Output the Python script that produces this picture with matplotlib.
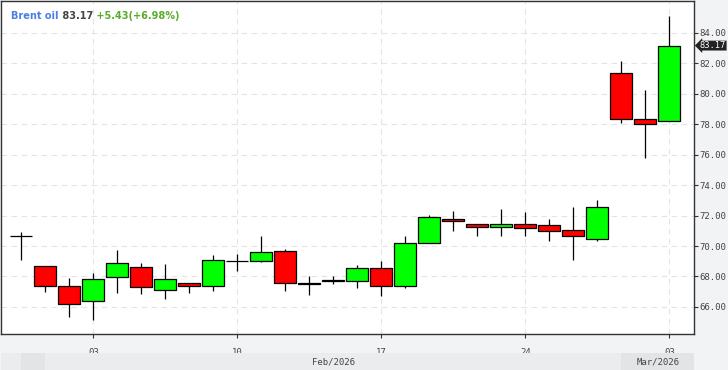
import matplotlib
matplotlib.use("Agg")
import matplotlib.pyplot as plt
from matplotlib.patches import Rectangle
import matplotlib.transforms as mtransforms

# daily bars, Jan 30 -> Mar 03 2026 (Sunday sessions included)
opens  = [70.64, 68.67, 67.36, 66.37, 67.95, 68.61, 67.11, 67.55, 67.36, 69.00,
          69.00, 69.66, 67.55, 67.76, 67.69, 68.54, 67.36, 70.18, 71.76, 71.43,
          71.23, 71.43, 71.36, 71.04, 70.45, 81.35, 78.33, 78.20]
highs  = [70.93, 68.67, 67.90, 68.23, 69.74, 68.89, 68.82, 67.55, 69.41, 69.48,
          70.66, 69.79, 68.03, 68.03, 68.76, 69.02, 70.66, 72.04, 72.30, 71.43,
          72.44, 72.24, 71.78, 72.57, 73.03, 82.16, 80.25, 85.12]
lows   = [69.11, 67.00, 65.36, 65.16, 66.94, 66.87, 66.50, 66.94, 67.07, 68.36,
          68.93, 67.07, 66.81, 67.53, 67.27, 66.74, 67.27, 70.18, 71.01, 70.68,
          70.68, 70.68, 70.35, 69.11, 70.35, 78.11, 75.77, 78.20]
closes = [70.64, 67.36, 66.17, 67.82, 68.87, 67.29, 67.82, 67.36, 69.07, 69.00,
          69.59, 67.55, 67.51, 67.71, 68.54, 67.36, 70.18, 71.89, 71.63, 71.23,
          71.43, 71.17, 70.97, 70.64, 72.55, 78.35, 78.00, 83.17]

tick_idx = [3, 9, 15, 21, 27]
tick_labels = ["03", "10", "17", "24", "03"]
months = [("", 0, 1, "#e3e4e6"), ("Feb/2026", 1, 25, "#ebecee"), ("Mar/2026", 25, 28.03, "#e3e4e6")]
yticks = [66, 68, 70, 72, 74, 76, 78, 80, 82, 84]

fig = plt.figure(figsize=(7.28, 3.70), dpi=100)
fig.patch.set_facecolor("#f2f3f5")
ax = fig.add_axes([1 / 728, 1 - 334 / 370, 693 / 728, 333 / 370])
ax.set_facecolor("white")
ax.set_xlim(-0.846, 28.03)
ax.set_ylim(64.22, 86.1)

for s in ax.spines.values():
    s.set_color("#333333")
    s.set_linewidth(1.0)

ax.set_yticks(yticks)
ax.set_yticklabels(["%.2f" % v for v in yticks])
ax.yaxis.tick_right()
ax.set_xticks(tick_idx)
ax.set_xticklabels(tick_labels)
ax.tick_params(axis="both", length=3, width=0.8, color="#333333", labelcolor="#444444",
               labelsize=6.5, pad=1)
ax.tick_params(axis="x", pad=7)
for lab in ax.get_xticklabels() + ax.get_yticklabels():
    lab.set_family("DejaVu Sans Mono")
ax.grid(True, color="#e4e4e4", linestyle=(0, (5, 4)), linewidth=0.8)
ax.set_axisbelow(True)

x = list(range(len(opens)))
cols = []
for o, c in zip(opens, closes):
    cols.append("#00ff00" if c > o else ("#ff0000" if c < o else "black"))

ax.vlines(x, lows, highs, color="black", linewidth=0.9, zorder=2)
bx = [i for i in x if opens[i] != closes[i]]
ax.bar(bx, [abs(closes[i] - opens[i]) for i in bx], bottom=[min(opens[i], closes[i]) for i in bx],
       width=0.92, color=[cols[i] for i in bx], edgecolor="black", linewidth=0.9, zorder=3)
cx = [i for i in x if opens[i] == closes[i]]
ax.hlines([opens[i] for i in cx], [i - 0.46 for i in cx], [i + 0.46 for i in cx],
          color="black", linewidth=0.9, zorder=3)

# month band under the axis
trans = mtransforms.blended_transform_factory(ax.transData, ax.transAxes)
ax.add_patch(Rectangle((-0.846, -0.11), 28.03 + 0.846, 0.052, transform=trans,
                       facecolor="#ebecee", edgecolor="none", clip_on=False, zorder=0))
for name, a, b, col in months:
    ax.add_patch(Rectangle((a, -0.11), b - a, 0.052, transform=trans,
                           facecolor=col, edgecolor="none", clip_on=False, zorder=1))
    if name:
        ax.text((a + b) / 2, -0.084, name, transform=trans, ha="center", va="center",
                fontsize=6.5, family="DejaVu Sans Mono", color="#444444")

# last price tag
ax.text(1.0085, closes[-1], "%.2f" % closes[-1], transform=ax.get_yaxis_transform(),
        ha="left", va="center", fontsize=6.3, family="DejaVu Sans Mono", color="white",
        clip_on=False, zorder=5,
        bbox=dict(boxstyle="larrow,pad=0.05", facecolor="#222222", edgecolor="none"))

# header
t1 = ax.text(0.015, 0.955, "Brent oil", transform=ax.transAxes, fontsize=7, fontweight="bold",
             color="#4a7fe8", va="center", ha="left")
t2 = ax.annotate(" %.2f" % closes[-1], xy=(1, 0), xycoords=t1, va="bottom", ha="left",
                 fontsize=7, fontweight="bold", color="#444444")
ax.annotate(" +5.43(+6.98%)", xy=(1, 0), xycoords=t2, va="bottom", ha="left",
            fontsize=7, fontweight="bold", color="#5aab2e")

fig.savefig("out.png", dpi=100, facecolor=fig.get_facecolor())
